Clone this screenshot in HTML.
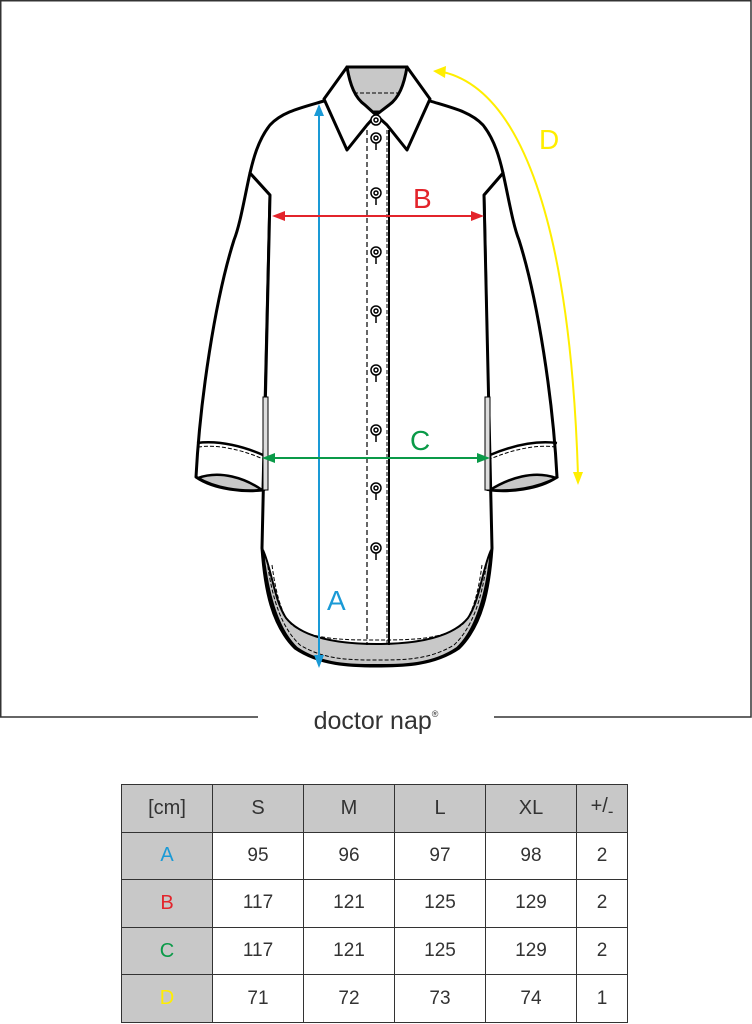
<!DOCTYPE html>
<html><head><meta charset="utf-8"><style>
html,body{margin:0;padding:0;background:#fff;}
body{width:752px;height:1024px;position:relative;overflow:hidden;font-family:"Liberation Sans",sans-serif;}
table{position:absolute;left:121px;top:784px;border-collapse:collapse;}
td{border:1px solid #333;text-align:center;font-size:19px;color:#333;height:46.6px;padding:0;}
tr:first-child td{background:#c8c8c8;font-size:20px;}
td.h{background:#c8c8c8;font-size:20px;}
</style></head><body>
<svg width="752" height="1024" style="position:absolute;left:0;top:0" xmlns="http://www.w3.org/2000/svg">
<g fill="none" stroke="#333" stroke-width="1.5">
<polyline points="258,717 0.75,717 0.75,0.75 751,0.75 751,717 494,717"/>
</g>
<text x="376" y="729" font-size="25" text-anchor="middle" fill="#333" font-family="Liberation Sans, sans-serif">doctor nap<tspan font-size="9" dy="-12">®</tspan></text>
<g stroke="#000" stroke-width="3" stroke-linejoin="round" fill="#fff">
<path d="M250,173 C244,200 240,225 234,240 C215,300 200,400 196,477 C215,490 245,492 263,490 L270,195 Z"/>
<path d="M503,173 C509,200 513,225 519,240 C538,300 553,400 557,477 C538,490 508,492 490,490 L484,195 Z"/>
<path d="M324,101 C300,108 282,112 270,125 C258,140 253,160 250,173 L270,195 L262,548 C265,590 272,625 295,648 C320,665 350,666 377,666 C404,666 434,665 459,648 C482,625 489,590 492,548 L484,195 L503,173 C500,160 495,140 483,125 C471,112 453,108 430,101 Z"/>
</g>
<g stroke="#000" stroke-width="2.5" fill="#fff">
<path d="M197,443 C220,440 245,447 263,455"/>
<path d="M557,443 C534,440 509,447 490,455"/>
<path d="M198,478 C220,470 245,478 262,490 C240,492 215,488 198,478 Z" fill="#c8c8c8"/>
<path d="M556,478 C534,470 509,478 490,490 C512,492 537,488 556,478 Z" fill="#c8c8c8"/>
</g>
<g stroke="#000" stroke-width="1" stroke-dasharray="4,2" fill="none">
<path d="M198,447 C220,444 245,451 263,459"/>
<path d="M556,447 C534,444 509,451 490,459"/>
</g>
<rect x="263" y="397" width="5" height="93" fill="#ddd" stroke="#000" stroke-width="1"/>
<rect x="485" y="397" width="5" height="93" fill="#ddd" stroke="#000" stroke-width="1"/>
<!-- hem band -->
<path d="M263,550 C267,590 276,628 297,648 C322,665 350,665 377,665 C404,665 432,665 457,648 C478,628 487,590 491,550 C482,570 480,600 468,618 C450,640 410,644 377,644 C344,644 304,640 286,618 C274,600 272,570 263,550 Z" fill="#c8c8c8" stroke="#000" stroke-width="2"/>
<path d="M267,560 C272,600 282,628 300,645 C325,660 350,660 377,660 C404,660 429,660 454,645 C472,628 482,600 487,560" fill="none" stroke="#000" stroke-width="1" stroke-dasharray="4,2"/>
<path d="M272,565 C276,595 282,615 291,624 C310,640 345,640 377,640 C409,640 444,640 463,624 C472,615 478,595 482,565" fill="none" stroke="#000" stroke-width="1" stroke-dasharray="4,2"/>
<line x1="367" y1="130" x2="367" y2="645" stroke="#000" stroke-width="1.2" stroke-dasharray="5,3"/>
<line x1="389" y1="130" x2="389" y2="645" stroke="#000" stroke-width="2"/>
<line x1="387" y1="130" x2="387" y2="645" stroke="#000" stroke-width="1" stroke-dasharray="4,2"/>
<path d="M347,67 L407,67 C412,80 410,95 398,112 L356,112 C344,95 342,80 347,67 Z" fill="#c8c8c8" stroke="#000" stroke-width="3"/>
<path d="M348,93 L406,93" stroke="#000" stroke-width="1" stroke-dasharray="4,2" fill="none"/>
<g fill="#fff" stroke="#000" stroke-width="3" stroke-linejoin="round">
<path d="M347,67 L324,99 L347,150 L367,125 L376,115 L365,105 C355,98 350,85 347,67 Z"/>
<path d="M407,67 L430,99 L407,150 L387,125 L376,115 L389,105 C399,98 404,85 407,67 Z"/>
</g>
<g fill="#fff" stroke="#000" stroke-width="1.5">
<circle cx="376" cy="120" r="5"/><circle cx="376" cy="120" r="2"/>
<g id="b"><circle cx="376" cy="138" r="5"/><circle cx="376" cy="138" r="2"/><line x1="376" y1="143" x2="376" y2="150"/></g>
</g>
<g fill="#fff" stroke="#000" stroke-width="1.5">
<use href="#b" y="55"/><use href="#b" y="114"/><use href="#b" y="173"/><use href="#b" y="232"/><use href="#b" y="292"/><use href="#b" y="350"/><use href="#b" y="410"/>
</g>
<g stroke-width="2" fill="none">
<line x1="319" y1="112" x2="319" y2="658" stroke="#1a9ad6"/>
<line x1="282" y1="216" x2="474" y2="216" stroke="#e3242b"/>
<line x1="272" y1="458" x2="480" y2="458" stroke="#0a9a48"/>
<path d="M443,72 C520,90 570,220 578,475" stroke="#ffee00"/>
</g>
<polygon points="319,104 314,116 324,116" fill="#1a9ad6"/>
<polygon points="319,668 314,655 324,655" fill="#1a9ad6"/>
<polygon points="272,216 285,211 285,221" fill="#e3242b"/>
<polygon points="484,216 471,211 471,221" fill="#e3242b"/>
<polygon points="262,458 275,453 275,463" fill="#0a9a48"/>
<polygon points="490,458 477,453 477,463" fill="#0a9a48"/>
<polygon points="433,71 446,66 445,78" fill="#ffee00"/>
<polygon points="578,485 573,472 583,472" fill="#ffee00"/>
<g font-size="28" font-family="Liberation Sans, sans-serif">
<text x="327" y="610" fill="#1a9ad6">A</text>
<text x="413" y="208" fill="#e3242b">B</text>
<text x="410" y="450" fill="#0a9a48">C</text>
<text x="539" y="149" fill="#ffee00">D</text>
</g>
</svg>
<table>
<tr><td style="width:90px">[cm]</td><td style="width:90px">S</td><td style="width:90px">M</td><td style="width:90px">L</td><td style="width:90px">XL</td><td style="width:50px">+/<sub>-</sub></td></tr>
<tr><td class="h" style="color:#1a9ad6">A</td><td>95</td><td>96</td><td>97</td><td>98</td><td>2</td></tr>
<tr><td class="h" style="color:#e3242b">B</td><td>117</td><td>121</td><td>125</td><td>129</td><td>2</td></tr>
<tr><td class="h" style="color:#0a9a48">C</td><td>117</td><td>121</td><td>125</td><td>129</td><td>2</td></tr>
<tr><td class="h" style="color:#ffee00">D</td><td>71</td><td>72</td><td>73</td><td>74</td><td>1</td></tr>
</table>
</body></html>
